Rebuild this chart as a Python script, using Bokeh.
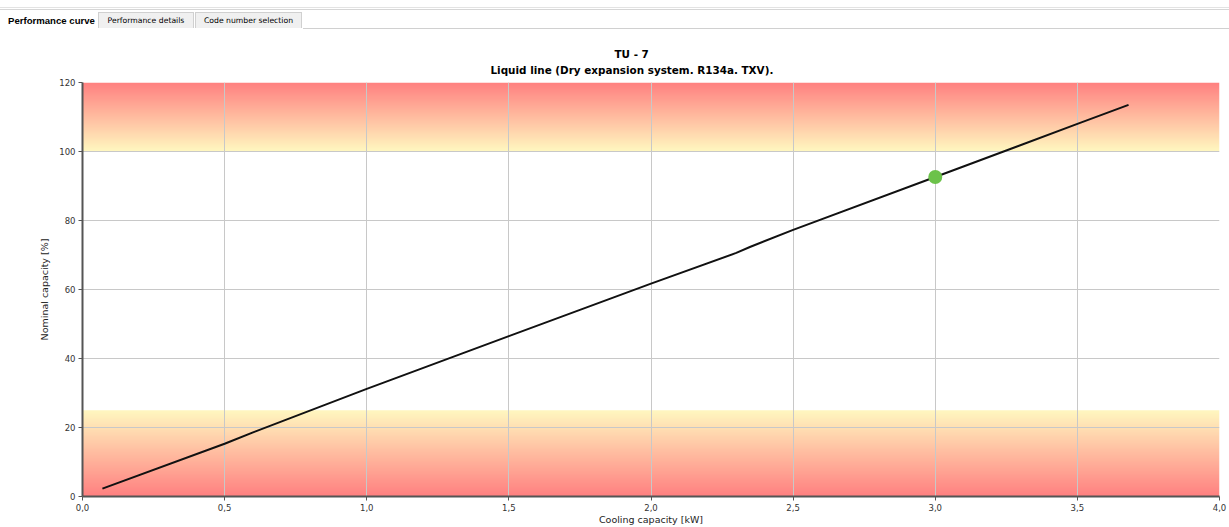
import numpy as np
from bokeh.plotting import figure
from bokeh.models import Title, FixedTicker, Div
from bokeh.layouts import column
from bokeh.embed import file_html
from bokeh.resources import INLINE

# ---- data ----
tabs = ["Performance curve", "Performance details", "Code number selection"]
title_main = "TU - 7"
title_sub = "Liquid line (Dry expansion system. R134a. TXV)."
x_label = "Cooling capacity [kW]"
y_label = "Nominal capacity [%]"

x_ticks = [0.0, 0.5, 1.0, 1.5, 2.0, 2.5, 3.0, 3.5, 4.0]
x_tick_labels = ["0,0", "0,5", "1,0", "1,5", "2,0", "2,5", "3,0", "3,5", "4,0"]
y_ticks = [0, 20, 40, 60, 80, 100, 120]

cap_kw = [0.07, 0.5, 0.6, 1.0, 1.5, 2.0, 2.3, 2.35, 2.5, 3.0, 3.5, 3.68]
nominal_pct = [2.3, 15.3, 18.6, 31.2, 46.5, 61.7, 70.6, 72.4, 77.3, 92.6, 108.0, 113.5]

op_kw = [3.0]
op_pct = [92.6]

upper_band = [100, 120]   # red (top) -> yellow (bottom)
lower_band = [0, 25]      # yellow (top) -> red (bottom)

RED = np.array([255, 128, 128])
YEL = np.array([255, 248, 192])

# ---- header tabs ----
tab_html = (
    '<div style="width:1229px;height:36px;position:relative;font-family:\'DejaVu Sans\',Tahoma,sans-serif;color:#000;">'
    '<div style="position:absolute;left:0;top:7px;width:1229px;height:1px;background:#e3e3e3;"></div>'
    '<div style="position:absolute;left:0;top:9px;width:1229px;height:1px;background:#d6d6d6;"></div>'
    f'<div style="position:absolute;left:8px;top:14px;font-family:\'Liberation Sans\',Arial,sans-serif;font-weight:bold;font-size:9.6px;">{tabs[0]}</div>'
    f'<div style="position:absolute;left:98px;top:12px;width:96px;height:16px;background:#f0f0f0;border:1px solid #d0d0d0;border-bottom:none;text-align:center;line-height:16px;font-size:7.7px;">{tabs[1]}</div>'
    f'<div style="position:absolute;left:195px;top:12px;width:107px;height:16px;background:#f0f0f0;border:1px solid #d0d0d0;border-bottom:none;text-align:center;line-height:16px;font-size:7.7px;">{tabs[2]}</div>'
    '<div style="position:absolute;left:303px;top:28px;width:926px;height:1px;background:#d0d0d0;"></div>'
    '</div>'
)
header = Div(text=tab_html, width=1229, height=36, margin=(0, 0, 0, 0))

# ---- figure ----
p = figure(width=1229, height=491, x_range=(x_ticks[0], x_ticks[-1]), y_range=(y_ticks[0], y_ticks[-1]),
           output_backend="svg", toolbar_location=None, tools="",
           min_border_left=82, min_border_right=10, min_border_top=46, min_border_bottom=0)
p.outline_line_color = None
p.background_fill_color = "white"
p.border_fill_color = "white"

p.add_layout(Title(text=title_sub, align="left", text_font="DejaVu Sans", text_font_size="10.4px",
                   text_font_style="bold", text_color="#000000", standoff=13, offset=408), "above")
p.add_layout(Title(text=title_main, align="left", text_font="DejaVu Sans", text_font_size="10.4px",
                   text_font_style="bold", text_color="#000000", standoff=-8, offset=532), "above")

# gradient bands as images (one column of pixels, stretched)
def band(lo, hi, top_color, bottom_color, n=200):
    t = (np.arange(n) + 0.5) / n  # row 0 = bottom
    img = np.empty((n, 2), dtype=np.uint32)
    view = img.view(dtype=np.uint8).reshape((n, 2, 4))
    for i, f in enumerate(t):
        c = bottom_color + (top_color - bottom_color) * f
        view[i, :, 0] = int(round(c[0]))
        view[i, :, 1] = int(round(c[1]))
        view[i, :, 2] = int(round(c[2]))
        view[i, :, 3] = 255
    r = p.image_rgba(image=[img], x=x_ticks[0], y=lo, dw=x_ticks[-1] - x_ticks[0], dh=hi - lo)
    r.level = "image"

band(upper_band[0], upper_band[1], RED, YEL)
band(lower_band[0], lower_band[1], YEL, RED)

p.line(cap_kw, nominal_pct, line_color="#111111", line_width=2)
p.scatter(op_kw, op_pct, size=14, fill_color="#6cc24a", line_color=None)

# axes
p.xaxis.ticker = FixedTicker(ticks=x_ticks)
p.xaxis.major_label_overrides = {t: l for t, l in zip(x_ticks, x_tick_labels)}
p.yaxis.ticker = FixedTicker(ticks=y_ticks)
for ax in (p.xaxis, p.yaxis):
    ax.minor_tick_line_color = None
    ax.major_tick_in = 0
    ax.major_tick_out = 4
    ax.major_tick_line_color = "#555555"
    ax.axis_line_color = "#555555"
    ax.axis_line_width = 2
    ax.major_label_text_font = "DejaVu Sans"
    ax.major_label_text_font_size = "8.5px"
    ax.major_label_text_color = "#333333"
    ax.major_label_standoff = 3
    ax.axis_label_text_font = "DejaVu Sans"
    ax.axis_label_text_font_size = "9.5px"
    ax.axis_label_text_font_style = "normal"
    ax.axis_label_text_color = "#222222"
    ax.axis_label_standoff = 0
p.xaxis.axis_label = x_label
p.yaxis.axis_label = y_label
p.yaxis.axis_label_standoff = 6

p.grid.grid_line_color = "#c8c8c8"
p.grid.grid_line_width = 1
p.xgrid.ticker = FixedTicker(ticks=x_ticks)
p.ygrid.ticker = FixedTicker(ticks=y_ticks)

layout = column(header, p, spacing=0)
open("out.html", "w").write(file_html(layout, INLINE))
